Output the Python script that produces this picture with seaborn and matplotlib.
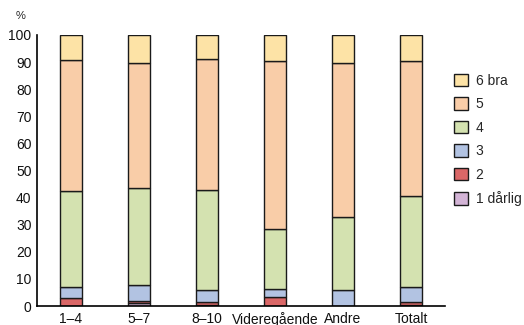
import matplotlib
matplotlib.use("Agg")
import matplotlib.pyplot as plt
import seaborn as sns
import pandas as pd

# School levels and share of answers per grade (percent)
groups = ["1–4", "5–7", "8–10", "Videregående", "Andre", "Totalt"]
grades = ["6 bra", "5", "4", "3", "2", "1 dårlig"]

g1_darlig = [0.0, 1.0, 0.2, 0.0, 0.0, 0.5]
g2 = [2.9, 1.0, 1.1, 3.3, 0.0, 1.1]
g3 = [4.1, 5.7, 4.5, 2.8, 5.8, 5.4]
g4 = [35.3, 35.7, 37.0, 22.2, 27.0, 33.5]
g5 = [48.4, 46.3, 48.5, 62.2, 57.0, 49.8]
g6_bra = [9.3, 10.3, 8.7, 9.5, 10.2, 9.7]

colors = ["#FDE3A6", "#F9CDA8", "#D4E2B0", "#B2C3E2", "#DA6767", "#D3B4D6"]

series = [g6_bra, g5, g4, g3, g2, g1_darlig]
rows = []
for grade, vals in zip(grades, series):
    for grp, v in zip(groups, vals):
        rows.append({"group": grp, "grade": grade, "value": v})
df = pd.DataFrame(rows)

sns.set_style("white")
plt.rcParams["font.family"] = ["Liberation Sans", "DejaVu Sans"]

fig = plt.figure(figsize=(5.24, 3.25), dpi=100)
ax = fig.add_axes([37 / 524, 19 / 325, 408 / 524, 271 / 325])

sns.histplot(
    data=df, x="group", hue="grade", weights="value",
    hue_order=grades, palette=colors, multiple="stack",
    discrete=True, shrink=0.32, alpha=1,
    edgecolor="#1a1a1a", linewidth=1.0, ax=ax,
)

ax.set_xlim(-0.5, 5.5)
ax.set_ylim(0, 100)
ax.set_yticks(range(0, 101, 10))
ax.set_xlabel("")
ax.set_ylabel("")
ax.tick_params(axis="both", length=0, labelsize=10, colors="#111111")
ax.tick_params(axis="y", pad=4)
ax.tick_params(axis="x", pad=4)
for side in ("top", "right"):
    ax.spines[side].set_visible(False)
for side in ("left", "bottom"):
    ax.spines[side].set_color("black")
    ax.spines[side].set_linewidth(1.2)

fig.text(21 / 524, 1 - 16 / 325, "%", fontsize=8, ha="center", va="center")

sns.move_legend(
    ax, loc="upper left", bbox_to_anchor=(454 / 524, 1 - 74 / 325),
    bbox_transform=fig.transFigure, frameon=False, title=None,
    fontsize=10, handlelength=1.0, handleheight=1.0, handletextpad=0.55,
    labelspacing=0.68, borderaxespad=0, borderpad=0,
)

fig.savefig("out.png", dpi=100)
